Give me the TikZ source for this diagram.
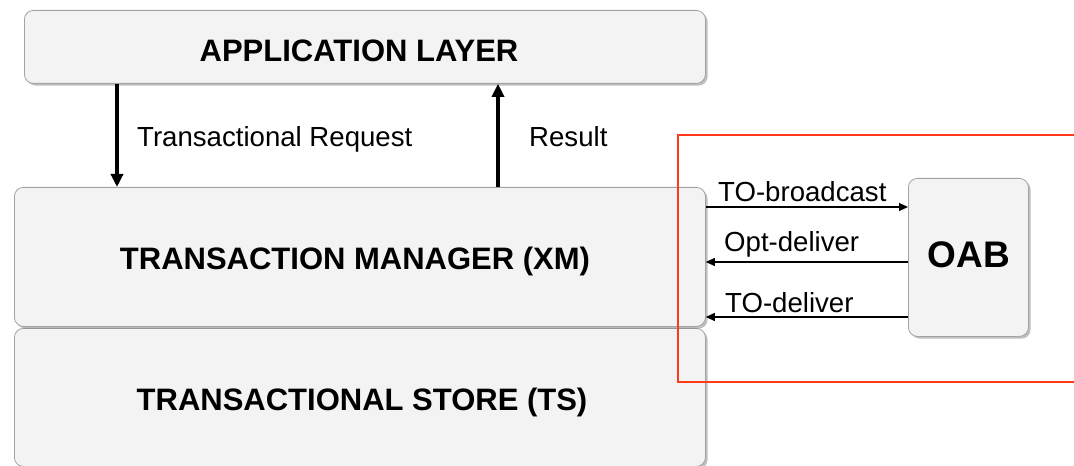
\documentclass[tikz,border=0pt]{standalone}
\usepackage{fontspec}
\setmainfont{Liberation Sans}
\usetikzlibrary{arrows.meta,shadows}
\definecolor{boxfill}{HTML}{F3F3F3}
\definecolor{boxline}{HTML}{A3A3A3}
\definecolor{frame}{HTML}{FF3A1A}
\tikzset{
  layer/.style={draw=boxline, line width=0.8bp, fill=boxfill, rounded corners=9bp,
    inner sep=0pt, anchor=north west,
    drop shadow={shadow xshift=2.2bp, shadow yshift=-2.2bp, opacity=0.45, fill=black!55}},
  boldtxt/.style={font=\fontsize{31bp}{36bp}\selectfont\bfseries, inner sep=0pt, anchor=base},
  smalltxt/.style={font=\fontsize{27.6bp}{32bp}\selectfont, inner sep=0pt, anchor=base west},
  bigarrow/.style={line width=3.4bp, -{Triangle[length=13bp,width=12bp]}},
  thinarrow/.style={line width=1.1bp, -{Triangle[length=9bp,width=8bp]}},
}
\begin{document}
\begin{tikzpicture}[x=1bp,y=-1bp]
  \useasboundingbox (0,0) rectangle (1074,466);
  \clip (0,0) rectangle (1074,466);
  \fill[white] (0,0) rectangle (1074,466);

  % layered blocks
  \node[layer, minimum width=681bp, minimum height=73bp] (app) at (24,10) {};
  \node[layer, minimum width=691bp, minimum height=138bp] (ts) at (14,328) {};
  \node[layer, minimum width=691bp, minimum height=139bp] (xm) at (14,187) {};
  \node[layer, minimum width=120bp, minimum height=158bp] (oab) at (908,178) {};

  % block titles
  \node[boldtxt] (appT) at (359,62) {APPLICATION LAYER};
  \node[boldtxt] (xmT) at (355,270) {TRANSACTION MANAGER (XM)};
  \node[boldtxt] (tsT) at (362,411) {TRANSACTIONAL STORE (TS)};
  \node[boldtxt, font=\fontsize{37bp}{42bp}\selectfont\bfseries] (oabT) at (969,268) {OAB};

  % request / result between application layer and XM
  \draw[bigarrow] (117,0 |- app.south) -- (117,0 |- xm.north);
  \draw[bigarrow] (498,0 |- xm.north) -- (498,0 |- app.south);
  \node[smalltxt] (req) at (137,146.5) {Transactional Request};
  \node[smalltxt] (res) at (529,146.5) {Result};

  % optimistic atomic broadcast messages
  \draw[thinarrow] (xm.east |- 0,207) -- (oab.west |- 0,207);
  \draw[thinarrow] (oab.west |- 0,262) -- (xm.east |- 0,262);
  \draw[thinarrow] (oab.west |- 0,317) -- (xm.east |- 0,317);
  \node[smalltxt] (bc) at (718,202) {TO-broadcast};
  \node[smalltxt] (od) at (724,252) {Opt-deliver};
  \node[smalltxt] (td) at (725,313) {TO-deliver};

  % replication boundary
  \draw[frame, line width=2.3bp] (1090,135) -- (678,135) -- (678,382) -- (1090,382);
\end{tikzpicture}
\end{document}
